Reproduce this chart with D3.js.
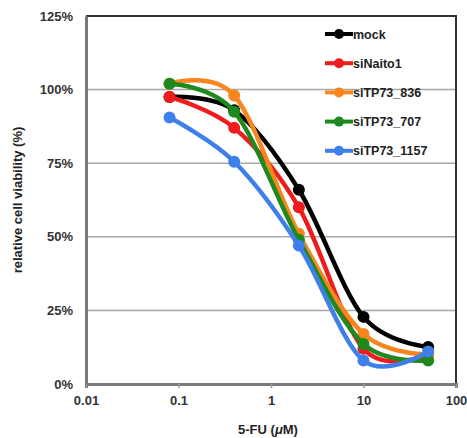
<!DOCTYPE html>
<html>
<head>
<meta charset="utf-8">
<script src="https://cdn.jsdelivr.net/npm/d3@7"></script>
<style>
	body { margin: 0; background: #fff; }
	text { font-family: Arial, "Liberation Sans", sans-serif; }
</style>
</head>
<body>
<svg id="chart"></svg>
<script>
// 5-FU dose (uM) and viability (%) per siRNA
const doses = [0.08, 0.4, 2, 10, 50];
const seriesNames = ["mock", "siNaito1", "siTP73_836", "siTP73_707", "siTP73_1157"];
const seriesColors = ["#000000", "#ee1c1c", "#f7861f", "#1e8a1e", "#3f7fea"];
const mock = [97.5, 93, 66, 22.8, 12.6];
const siNaito1 = [97.5, 87, 60, 12, 10];
const siTP73_836 = [102, 98, 51, 17, 10];
const siTP73_707 = [102, 92.5, 49, 13.6, 8];
const siTP73_1157 = [90.5, 75.5, 47, 8, 11];
const yTicks = [0, 25, 50, 75, 100, 125];
const xTicks = [0.01, 0.1, 1, 10, 100];

function makeChart() {
	let w = 467;
	let h = 438;
	let marginT = 16;
	let marginL = 86;
	let marginR = 11;
	let marginB = 54;

	let allValues = [mock, siNaito1, siTP73_836, siTP73_707, siTP73_1157];
	let dataset = seriesNames.map((name, i) => ({
		name: name,
		color: seriesColors[i],
		points: doses.map((d, j) => ({ dose: d, value: allValues[i][j] }))
	}));

	let chart = d3.select('#chart')
		.attr('width', w)
		.attr('height', h);

	let xScale = d3.scaleLog()
		.domain([0.01, 100])
		.range([marginL, w - marginR]);

	let yScale = d3.scaleLinear()
		.domain([0, 125])
		.range([h - marginB, marginT]);

	//gridlines
	chart.selectAll('.grid')
		.data(yTicks.filter(t => t > 0 && t < 125))
		.enter()
		.append('line')
		.attr('x1', marginL)
		.attr('x2', w - marginR)
		.attr('y1', d => yScale(d))
		.attr('y2', d => yScale(d))
		.style('stroke', '#a8a8a8')
		.style('stroke-width', 1.5);

	//frame top & right
	chart.append('path')
		.attr('d', `M${marginL},${yScale(125)}H${w - marginR}V${yScale(0)}`)
		.style('fill', 'none')
		.style('stroke', '#333')
		.style('stroke-width', 2);

	//AXES
	let xAxis = d3.axisBottom(xScale)
		.tickValues(xTicks)
		.tickFormat(d => String(d))
		.tickSize(4)
		.tickPadding(8);
	let yAxis = d3.axisLeft(yScale)
		.tickValues(yTicks)
		.tickFormat(d => d + "%")
		.tickSize(0)
		.tickPadding(13);

	let gx = chart.append('g')
		.attr('transform', `translate(0, ${h - marginB})`)
		.call(xAxis);
	gx.select('.domain').style('stroke', '#7a7a7a').style('stroke-width', 3);
	gx.selectAll('.tick line').style('stroke', '#999').style('stroke-width', 1.5);
	gx.selectAll('.tick text')
		.style('font-size', '13px')
		.style('font-weight', 'bold')
		.style('fill', '#333');

	let gy = chart.append('g')
		.attr('transform', `translate(${marginL}, 0)`)
		.call(yAxis);
	gy.select('.domain').style('stroke', '#7a7a7a').style('stroke-width', 3);
	gy.selectAll('.tick text')
		.style('font-size', '13px')
		.style('font-weight', 'bold')
		.style('fill', '#333');

	//lines
	let line = d3.line()
		.x(d => xScale(d.dose))
		.y(d => yScale(d.value))
		.curve(d3.curveCardinal.tension(0));

	let groups = chart.selectAll('.series')
		.data(dataset)
		.enter()
		.append('g')
		.attr('class', 'series');

	groups.append('path')
		.attr('d', d => line(d.points))
		.style('fill', 'none')
		.style('stroke', d => d.color)
		.style('stroke-width', 4.5)
		.attr('stroke-linejoin', 'round');

	groups.selectAll('circle')
		.data(d => d.points.map(p => Object.assign({ color: d.color }, p)))
		.enter()
		.append('circle')
		.attr('r', 6)
		.attr('cx', d => xScale(d.dose))
		.attr('cy', d => yScale(d.value))
		.style('fill', d => d.color);

	//legend
	let legend = chart.selectAll('.legend')
		.data(dataset)
		.enter()
		.append('g')
		.attr('transform', (d, i) => `translate(325, ${34 + i * 29.2})`);

	legend.append('line')
		.attr('x1', 0)
		.attr('x2', 28)
		.style('stroke', d => d.color)
		.style('stroke-width', 4);
	legend.append('circle')
		.attr('cx', 14)
		.attr('r', 5)
		.style('fill', d => d.color);
	legend.append('text')
		.attr('x', 28)
		.attr('y', 4.5)
		.style('font-size', '12.5px')
		.style('font-weight', 'bold')
		.style('fill', '#222')
		.text(d => d.name);

	//LABELS
	let xl = chart.append('text')
		.attr('x', 268)
		.attr('y', h - 4)
		.style('text-anchor', 'middle')
		.style('font-size', '13px')
		.style('font-weight', 'bold')
		.style('fill', '#222');
	xl.append('tspan').text('5-FU (');
	xl.append('tspan').style('font-style', 'italic').text('\u03bc');
	xl.append('tspan').text('M)');

	chart.append('text')
		.attr('transform', 'rotate(-90)')
		.attr('x', -(marginT + (h - marginB)) / 2)
		.attr('y', 22)
		.style('text-anchor', 'middle')
		.style('font-size', '13px')
		.style('font-weight', 'bold')
		.style('fill', '#222')
		.text('relative cell viability (%)');
}

makeChart();
</script>
</body>
</html>
